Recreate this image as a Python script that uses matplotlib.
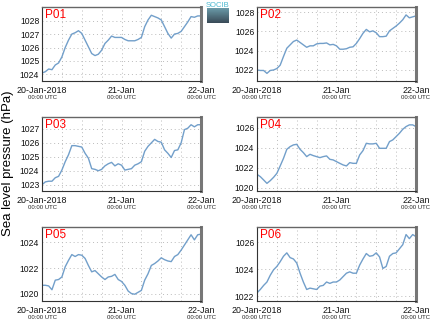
import numpy as np
import matplotlib
matplotlib.use("Agg")
import matplotlib.pyplot as plt
import matplotlib.transforms as mtransforms

plt.rcParams['font.family'] = ['Liberation Sans', 'DejaVu Sans']

# hourly sea level pressure (hPa), 20-Jan-2018 00:00 to 22-Jan 00:00 UTC
hours = list(range(49))

p01 = [1024.1, 1024.2, 1024.4, 1024.35, 1024.7, 1024.85, 1025.3, 1026.0, 1026.55, 1027.0,
       1027.1, 1027.25, 1027.05, 1026.55, 1026.05, 1025.55, 1025.4, 1025.5, 1025.8, 1026.3,
       1026.55, 1026.85, 1026.75, 1026.75, 1026.75, 1026.6, 1026.5, 1026.5, 1026.5, 1026.6,
       1026.75, 1027.55, 1028.05, 1028.4, 1028.3, 1028.2, 1028.05, 1027.55, 1027.05, 1026.7,
       1027.0, 1027.05, 1027.2, 1027.55, 1027.9, 1028.3, 1028.25, 1028.35, 1028.35]
p02 = [1022.0, 1021.95, 1021.95, 1021.65, 1021.95, 1022.0, 1022.15, 1022.5, 1023.4, 1024.25,
       1024.6, 1024.95, 1025.1, 1024.85, 1024.6, 1024.35, 1024.5, 1024.5, 1024.7, 1024.75,
       1024.75, 1024.8, 1024.6, 1024.65, 1024.5, 1024.15, 1024.15, 1024.2, 1024.35, 1024.4,
       1024.75, 1025.25, 1025.8, 1026.2, 1025.95, 1026.05, 1025.85, 1025.45, 1025.45, 1025.5,
       1026.05, 1026.3, 1026.55, 1026.85, 1027.2, 1027.7, 1027.4, 1027.5, 1027.6]
p03 = [1023.0, 1023.2, 1023.25, 1023.25, 1023.5, 1023.6, 1024.05, 1024.65, 1025.15, 1025.8,
       1025.8, 1025.75, 1025.7, 1025.25, 1024.9, 1024.15, 1024.1, 1024.0, 1024.1, 1024.35,
       1024.5, 1024.6, 1024.35, 1024.5, 1024.4, 1024.05, 1024.1, 1024.15, 1024.4, 1024.5,
       1024.65, 1025.4, 1025.75, 1026.0, 1026.25, 1026.1, 1026.05, 1025.5, 1025.25, 1024.95,
       1025.45, 1025.5, 1026.0, 1026.95, 1027.05, 1027.3, 1027.15, 1027.3, 1027.3]
p04 = [1021.33, 1021.1, 1020.77, 1020.43, 1020.7, 1021.03, 1021.43, 1022.17, 1022.93, 1023.83,
       1024.1, 1024.27, 1024.33, 1023.83, 1023.5, 1023.1, 1023.33, 1023.2, 1023.1, 1023.0,
       1023.1, 1023.17, 1022.83, 1022.77, 1022.6, 1022.43, 1022.27, 1022.17, 1022.5, 1022.43,
       1022.43, 1023.27, 1023.7, 1024.43, 1024.37, 1024.37, 1024.43, 1023.93, 1023.93, 1023.93,
       1024.6, 1024.77, 1025.1, 1025.43, 1025.83, 1026.1, 1026.27, 1026.27, 1026.1]
p05 = [1020.65, 1020.65, 1020.6, 1020.3, 1021.05, 1021.1, 1021.3, 1022.1, 1022.6, 1023.05,
       1022.9, 1023.05, 1023.0, 1022.75, 1022.2, 1021.7, 1021.8, 1021.55, 1021.3, 1021.1,
       1021.3, 1021.35, 1021.5, 1021.1, 1020.95, 1020.65, 1020.2, 1020.0, 1019.95, 1020.1,
       1020.25, 1021.05, 1021.55, 1022.2, 1022.35, 1022.55, 1022.8, 1022.65, 1022.55, 1022.5,
       1022.9, 1023.05, 1023.4, 1023.8, 1024.2, 1024.6, 1024.2, 1024.6, 1024.65]
p06 = [1022.25, 1022.5, 1022.8, 1023.05, 1023.55, 1023.95, 1024.2, 1024.55, 1024.95, 1025.2,
       1024.85, 1024.75, 1024.45, 1023.7, 1023.05, 1022.5, 1022.6, 1022.55, 1022.5, 1022.75,
       1022.8, 1023.05, 1022.95, 1023.05, 1023.05, 1023.2, 1023.45, 1023.7, 1023.8, 1023.7,
       1023.7, 1024.3, 1024.75, 1025.15, 1024.95, 1025.0, 1025.2, 1024.9, 1024.05, 1024.2,
       1024.95, 1025.15, 1025.2, 1025.5, 1025.8, 1026.55, 1026.25, 1026.55, 1026.4]

names = ["P01", "P02", "P03", "P04", "P05", "P06"]
series = [p01, p02, p03, p04, p05, p06]
ylims = [(1023.5, 1029.0), (1020.85, 1028.5), (1022.55, 1027.85),
         (1019.67, 1027.05), (1019.42, 1025.2), (1021.65, 1027.1)]
ysteps = [1, 2, 1, 2, 2, 2]

date_labels = ["20-Jan-2018", "21-Jan", "22-Jan"]
time_label = "00:00 UTC"

line_color = "#729fca"

fig = plt.figure(figsize=(4.35, 3.27), dpi=100)

lefts = [0.0966, 0.5908]
bottoms = [0.752, 0.416, 0.0795]
w, h = 0.3655, 0.226

for i, (name, vals) in enumerate(zip(names, series)):
    row, col = divmod(i, 2)
    ax = fig.add_axes([lefts[col], bottoms[row], w, h])
    ax.plot(hours, vals, color=line_color, lw=1.0)
    ax.set_xlim(0, 48)
    ax.set_ylim(*ylims[i])
    lo, hi = ylims[i]
    st = ysteps[i]
    ax.set_yticks(np.arange(np.ceil(lo / st) * st, hi, st))
    ax.yaxis.set_major_formatter(plt.FormatStrFormatter("%d"))
    ax.set_xticks([0, 24, 48])
    ax.set_xticks(range(6, 48, 6), minor=True)
    ax.set_xticklabels(date_labels, fontsize=6.4)
    ax.grid(True, which="both", axis="x", color="#bbbbbb", ls=(0, (1, 3)), lw=0.7)
    ax.grid(True, axis="y", color="#bbbbbb", ls=(0, (1, 3)), lw=0.7)
    ax.tick_params(axis="y", which="both", length=0, labelsize=6.2, pad=2,
                   labelcolor="#111111")
    ax.tick_params(axis="x", which="both", length=0, pad=3.5, labelcolor="#111111")
    for s in ["left", "bottom"]:
        ax.spines[s].set_color("#333333")
        ax.spines[s].set_linewidth(0.8)
    ax.spines["top"].set_color("#666666")
    ax.spines["top"].set_linewidth(1.0)
    ax.spines["right"].set_color("#777777")
    ax.spines["right"].set_linewidth(2.2)
    ax.text(0.02, 0.98, name, transform=ax.transAxes, color="red",
            fontsize=8.5, ha="left", va="top")
    trans = mtransforms.blended_transform_factory(ax.transData, ax.transAxes)
    for xv in [0, 24, 48]:
        ax.text(xv, -0.19, time_label, transform=trans, fontsize=4.3,
                ha="center", va="top", color="#222222")

fig.text(0.018, 0.5, "Sea level pressure (hPa)", rotation=90,
         ha="center", va="center", fontsize=9.5)

# small logo between the top panels
fig.text(0.5, 0.995, "SOCIB", color="#4ab8d0", fontsize=5.5,
         ha="center", va="top")
lax = fig.add_axes([0.476, 0.93, 0.05, 0.045])
grad = np.linspace(0, 1, 30).reshape(-1, 1)
lax.imshow(grad, aspect="auto", cmap=matplotlib.colors.LinearSegmentedColormap.from_list(
    "logo", ["#6a9aa8", "#3a4b58"]))
lax.axis("off")

fig.savefig("out.png", dpi=100)
